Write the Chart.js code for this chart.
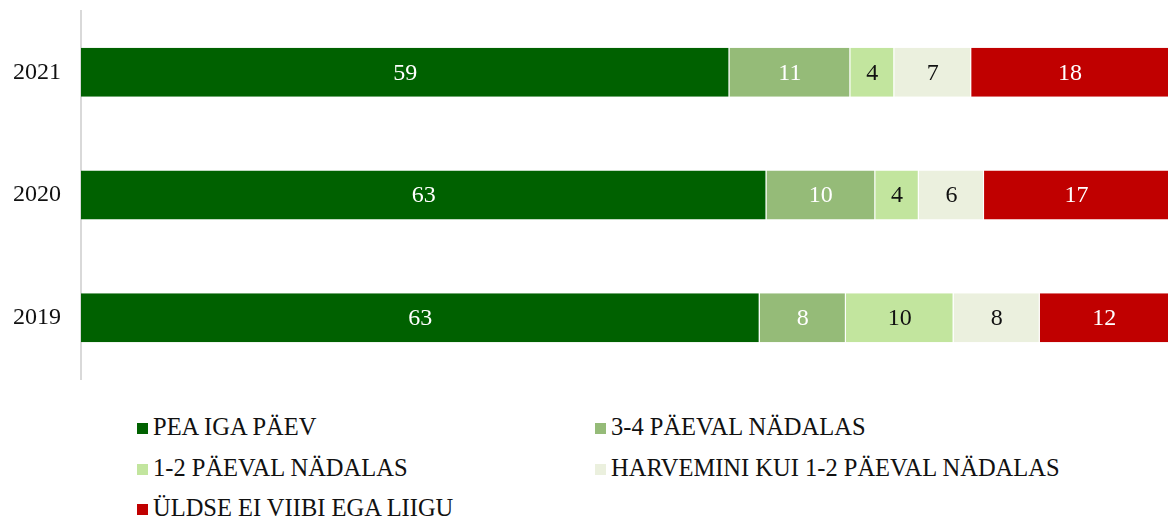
<!DOCTYPE html>
<html>
<head>
<meta charset="utf-8">
<script src="https://cdn.jsdelivr.net/npm/chart.js@4.4.1/dist/chart.umd.min.js"></script>
<style>
  body { margin: 0; background: #fff; font-family: "Liberation Serif", "Times New Roman", serif; }
  #wrap { position: relative; width: 1169px; height: 390px; }
  #legend { position: absolute; left: 137px; top: 407px; display: grid; grid-template-columns: 458px 458px; row-gap: 0; }
  .item { height: 40.5px; line-height: 40.5px; font-size: 24.5px; color: #111; white-space: nowrap; }
  .box { display: inline-block; width: 11px; height: 11px; margin-right: 5px; vertical-align: 1px; }
</style>
</head>
<body>
<div id="wrap"><canvas id="canvas"></canvas></div>
<div id="legend"></div>
<script>
// data
let years = ['2021', '2020', '2019'];
let seriesNames = ['PEA IGA PÄEV', '3-4 PÄEVAL NÄDALAS', '1-2 PÄEVAL NÄDALAS', 'HARVEMINI KUI 1-2 PÄEVAL NÄDALAS', 'ÜLDSE EI VIIBI EGA LIIGU'];
let peaIgaPaev = [59, 63, 63];
let kolmNeli = [11, 10, 8];
let ukskaks = [4, 4, 10];
let harvemini = [7, 6, 8];
let uldseEi = [18, 17, 12];

let colors = ['#006100', '#95bb78', '#c2e59e', '#ebf0de', '#c00000'];
let labelColors = ['#fff', '#fff', '#111', '#111', '#fff'];

let rawSeries = [peaIgaPaev, kolmNeli, ukskaks, harvemini, uldseEi];

// each row is drawn as share of its own total (100% stacked)
let totals = years.map(function(y, i){
  return rawSeries.reduce(function(s, arr){ return s + arr[i]; }, 0);
});

let datasets = rawSeries.map(function(arr, k){
  return {
    label: seriesNames[k],
    data: arr.map(function(v, i){ return v / totals[i] * 100; }),
    raw: arr,
    backgroundColor: colors[k],
    borderColor: '#fff',
    borderWidth: {left: 0, right: 1, top: 0, bottom: 0},
    borderSkipped: false,
    barPercentage: 0.4,
    categoryPercentage: 1
  };
});

// labels inside the segments
let valueLabels = {
  id: 'valueLabels',
  afterDatasetsDraw: function(chart){
    let ctx = chart.ctx;
    ctx.save();
    ctx.font = '24px "Liberation Serif", serif';
    ctx.textAlign = 'center';
    ctx.textBaseline = 'middle';
    chart.data.datasets.forEach(function(ds, k){
      let meta = chart.getDatasetMeta(k);
      meta.data.forEach(function(bar, i){
        let p = bar.getCenterPoint();
        ctx.fillStyle = labelColors[k];
        ctx.fillText(String(ds.raw[i]), p.x, p.y + 1);
      });
    });
    ctx.restore();
  }
};

let chart = new Chart(document.getElementById('canvas').getContext('2d'), {
  type: 'bar',
  data: { labels: years, datasets: datasets },
  plugins: [valueLabels],
  options: {
    indexAxis: 'y',
    responsive: true,
    maintainAspectRatio: false,
    animation: false,
    layout: { padding: { top: 11, bottom: 11, right: 0, left: 0 } },
    plugins: { legend: { display: false }, tooltip: { enabled: false } },
    scales: {
      x: { stacked: true, min: 0, max: 100, display: false },
      y: {
        stacked: true,
        grid: { display: false, drawTicks: false },
        border: { color: '#d9d9d9', width: 2 },
        ticks: { color: '#111', padding: 20, font: { family: '"Liberation Serif", serif', size: 24 } },
        afterFit: function(scale){
          scale.width = 81;
          scale.paddingTop = 0;
          scale.paddingBottom = 0;
        }
      }
    }
  }
});

// legend, two columns
let legend = document.getElementById('legend');
seriesNames.forEach(function(name, k){
  let div = document.createElement('div');
  div.className = 'item';
  div.innerHTML = '<span class="box" style="background:' + colors[k] + '"></span>' + name;
  legend.appendChild(div);
});
</script>
</body>
</html>
